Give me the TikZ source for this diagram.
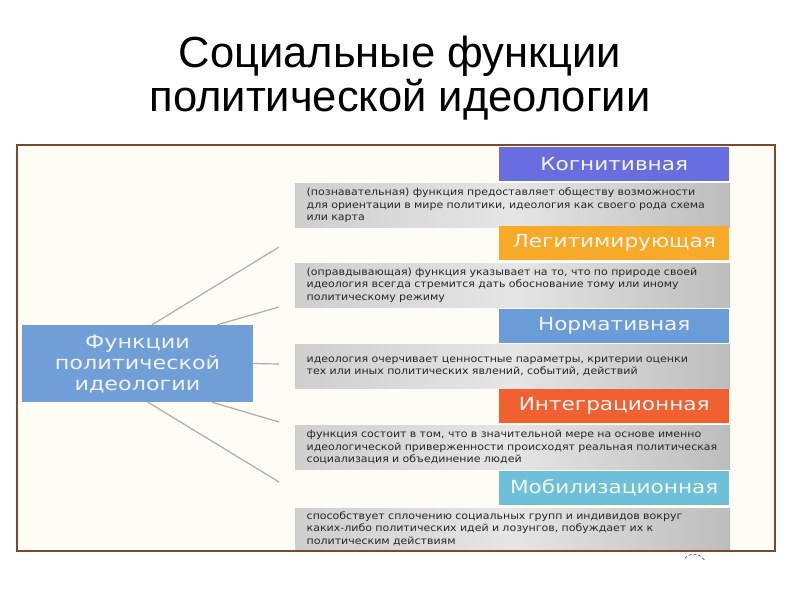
\documentclass[tikz,border=0pt]{standalone}
\usepackage{fontspec}
\setmainfont{Liberation Sans}
\newfontfamily\headfont[FakeStretch=1.2]{DejaVu Sans}
\newfontfamily\notefont[FakeStretch=1.1]{DejaVu Sans}
\usetikzlibrary{positioning}
\definecolor{framebrown}{RGB}{122,74,42}
\definecolor{paper}{RGB}{255,252,246}
\definecolor{fnblue}{RGB}{112,158,214}
\definecolor{kogn}{RGB}{104,110,222}
\definecolor{legit}{RGB}{246,170,40}
\definecolor{norm}{RGB}{108,156,216}
\definecolor{integr}{RGB}{240,96,48}
\definecolor{mobil}{RGB}{110,192,216}

\begin{document}
\begin{tikzpicture}[x=1pt,y=-1pt,
    title/.style={font=\fontsize{43.5}{44}\selectfont, align=center},
    fnbox/.style={rectangle, fill=fnblue, minimum width=231pt, minimum height=77pt,
      text=white!90!gray, font=\headfont\fontsize{18.6}{21}\selectfont, align=center},
    head/.style={rectangle, anchor=north west, minimum width=230pt, minimum height=34pt,
      inner sep=0pt, text=white!92!gray, font=\headfont\fontsize{18}{20}\selectfont},
    note/.style={rectangle, anchor=north west, minimum width=435pt, minimum height=44pt,
      left color=gray!38, right color=gray!52, middle color=gray!20,
      inner xsep=11.5pt, inner ysep=0pt, text width=412pt, align=left,
      text=black!85, font=\notefont\fontsize{10}{12.5}\selectfont},
    link/.style={draw=gray!65, line width=1.2pt}
    ]
\useasboundingbox (0,0) rectangle (800,600);
\fill[white] (0,0) rectangle (800,600);

% title
\node[title] (ttl) at (400,78) {Социальные функции\\политической идеологии};

\draw[framebrown, line width=2pt, fill=paper] (17,145) rectangle (775,551);

\node[fnbox] (fn) at (137.5,363.5) {Функции\\политической\\идеологии};

%right column, headers and notes
\node[head, fill=kogn] (h1) at (499,147) {Когнитивная};
\node[note] (n1) at (295,183) {(познавательная) функция предоставляет обществу возможности\\для ориентации в мире политики, идеология как своего рода схема\\или карта};
\node[head, fill=legit] (h2) at (499,226) {Легитимирующая};
\node[note] (n2) at (295,263) {(оправдывающая) функция указывает на то, что по природе своей\\идеология всегда стремится дать обоснование тому или иному\\политическому режиму};
\node[head, fill=norm] (h3) at (499,309) {Нормативная};
\node[note] (n3) at (295,344) {идеология очерчивает ценностные параметры, критерии оценки\\тех или иных политических явлений, событий, действий};
\node[head, fill=integr] (h4) at (499,389) {Интеграционная};
\node[note] (n4) at (295,425) {функция состоит в том, что в значительной мере на основе именно\\идеологической приверженности происходят реальная политическая\\социализация и объединение людей};
\node[head, fill=mobil] (h5) at (499,471) {Мобилизационная};
\node[note, minimum height=41pt] (n5) at (295,508) {способствует сплочению социальных групп и индивидов вокруг\\каких-либо политических идей и лозунгов, побуждает их к\\политическим действиям};

%connectors
\coordinate (e1) at (279,247);
\coordinate (e2) at (279,307);
\coordinate (e3) at (279,364);
\coordinate (e4) at (279,422);
\coordinate (e5) at (279,482);
\draw[link] ([xshift=14.5pt]fn.north) -- (e1);
\draw[link] ([xshift=79.5pt]fn.north) -- (e2);
\draw[link] (fn.east) -- (e3);
\draw[link] ([xshift=74.5pt]fn.south) -- (e4);
\draw[link] ([xshift=10.5pt]fn.south) -- (e5);

\draw[framebrown, line width=2pt] (17,145) rectangle (775,551);
\draw[black!70, densely dashed, line width=0.6pt] (704.4,560) arc (-30:-150:12);
\end{tikzpicture}
\end{document}
